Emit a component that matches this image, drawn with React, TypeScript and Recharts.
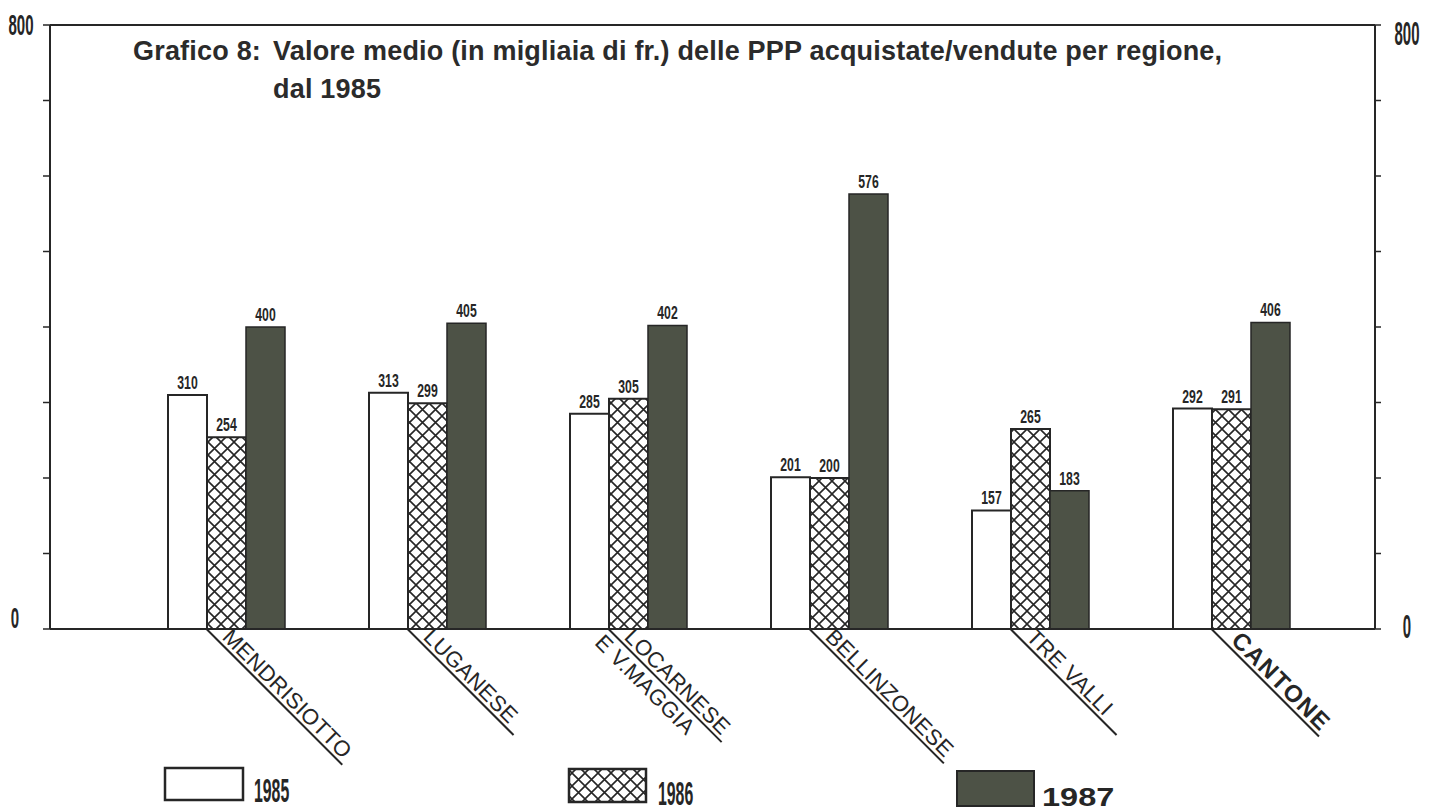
import { Bar, BarChart, LabelList, Legend, ReferenceLine, XAxis, YAxis } from "recharts";

const regions = [
  "MENDRISIOTTO",
  "LUGANESE",
  "LOCARNESE\nE V.MAGGIA",
  "BELLINZONESE",
  "TRE VALLI",
  "CANTONE",
];
const values1985 = [310, 313, 285, 201, 157, 292];
const values1986 = [254, 299, 305, 200, 265, 291];
const values1987 = [400, 405, 402, 576, 183, 406];
const years = ["1985", "1986", "1987"];
const yTicks = [0, 100, 200, 300, 400, 500, 600, 700, 800];

const data = regions.map((region, i) => ({
  region,
  v1985: values1985[i],
  v1986: values1986[i],
  v1987: values1987[i],
}));

const INK = "#262626";
const DARK = "#4d5246";
const FONT = "'Liberation Sans', Arial, Helvetica, sans-serif";

// length of the slanted underline for each region label
const underline: Record<string, number> = {
  MENDRISIOTTO: 192,
  LUGANESE: 150,
  "LOCARNESE\nE V.MAGGIA": 160,
  BELLINZONESE: 190,
  "TRE VALLI": 150,
  CANTONE: 152,
};

function RegionTick({ x, y, payload }: any) {
  const name: string = payload.value;
  const [first, second] = name.split("\n");
  const bold = name === "CANTONE";
  return (
    <g transform={`translate(${x - 20},${y}) rotate(45)`}>
      <line x1={0} y1={0} x2={underline[name] ?? 150} y2={0} stroke={INK} strokeWidth={2} />
      <text
        x={bold ? 22 : 17}
        y={-4}
        fontSize={bold ? 24 : 22}
        fontWeight={bold ? 700 : 400}
        letterSpacing={bold ? 1.5 : 0.3}
        fill={INK}
        fontFamily={FONT}
      >
        {first}
      </text>
      {second && (
        <text x={0} y={21} fontSize={22} letterSpacing={0.3} fill={INK} fontFamily={FONT}>
          {second}
        </text>
      )}
    </g>
  );
}

function LeftTick({ x, y, payload }: any) {
  const v = payload.value;
  if (v !== 0 && v !== 800) return <g />;
  return (
    <g transform={`translate(${v === 800 ? x - 20 : x - 26},${v === 800 ? y + 10 : y - 1}) scale(0.5,1)`}>
      <text textAnchor="middle" fontSize={30} fontWeight={700} fill={INK} fontFamily={FONT}>
        {v}
      </text>
    </g>
  );
}

function RightTick({ x, y, payload }: any) {
  const v = payload.value;
  if (v !== 0 && v !== 800) return <g />;
  return (
    <g transform={`translate(${x + 24},${v === 800 ? y + 20 : y + 9}) scale(0.5,1.1)`}>
      <text textAnchor="middle" fontSize={30} fontWeight={700} fill={INK} fontFamily={FONT}>
        {v}
      </text>
    </g>
  );
}

function ValueLabel({ x, y, width, value }: any) {
  return (
    <g transform={`translate(${Number(x) + Number(width) / 2},${Number(y) - 6}) scale(0.68,1)`}>
      <text textAnchor="middle" fontSize={18} fontWeight={700} fill={INK} fontFamily={FONT}>
        {value}
      </text>
    </g>
  );
}

function YearLegend() {
  return (
    <svg width={1438} height={52}>
      <defs>
        <pattern id="hatchLegend" patternUnits="userSpaceOnUse" width={13} height={13}>
          <rect width={13} height={13} fill="#fff" />
          <path d="M0,0 L13,13 M13,0 L0,13" stroke={INK} strokeWidth={1.6} />
        </pattern>
      </defs>
      <rect x={165} y={8} width={78} height={32} fill="#fff" stroke={INK} strokeWidth={2.5} />
      <g transform="translate(254,42) scale(0.48,1)">
        <text fontSize={33} fontWeight={700} fill={INK} fontFamily={FONT}>
          {years[0]}
        </text>
      </g>
      <rect x={569} y={9} width={77} height={33} fill="url(#hatchLegend)" stroke={INK} strokeWidth={2.5} />
      <g transform="translate(658,45) scale(0.48,1)">
        <text fontSize={33} fontWeight={700} fill={INK} fontFamily={FONT}>
          {years[1]}
        </text>
      </g>
      <rect x={957} y={11} width={77} height={35} fill={DARK} stroke={INK} strokeWidth={2} />
      <g transform="translate(1042,46) scale(1.25,1)">
        <text fontSize={26} fontWeight={700} fill={INK} fontFamily={FONT}>
          {years[2]}
        </text>
      </g>
    </svg>
  );
}

export default function App() {
  return (
    <div style={{ position: "absolute", left: 0, top: 0, width: 1438, height: 812, background: "#fff" }}>
      <div
        style={{
          position: "absolute",
          left: 133,
          top: 32,
          fontFamily: FONT,
          fontWeight: 700,
          fontSize: 27,
          letterSpacing: 0.2,
          lineHeight: "38px",
          color: "#2b2b2b",
          whiteSpace: "nowrap",
          zIndex: 2,
        }}
      >
        <span style={{ position: "absolute", left: 0, top: 0 }}>Grafico 8:</span>
        <div style={{ position: "absolute", left: 140, top: 0 }}>
          Valore medio (in migliaia di fr.) delle PPP acquistate/vendute per regione,
          <br />
          dal 1985
        </div>
      </div>
      <BarChart
        width={1438}
        height={812}
        data={data}
        margin={{ top: 25, right: 0, bottom: 0, left: 0 }}
        barGap={0}
        barCategoryGap={42}
      >
        <defs>
          <pattern id="hatch" patternUnits="userSpaceOnUse" width={13} height={13}>
            <rect width={13} height={13} fill="#fff" />
            <path d="M0,0 L13,13 M13,0 L0,13" stroke={INK} strokeWidth={1.6} />
          </pattern>
        </defs>
        <XAxis
          dataKey="region"
          height={183}
          padding={{ left: 76, right: 43 }}
          axisLine={{ stroke: INK, strokeWidth: 2 }}
          tickLine={false}
          tickSize={0}
          tickMargin={0}
          interval={0}
          tick={<RegionTick />}
        />
        <YAxis
          yAxisId="l"
          type="number"
          width={50}
          domain={[0, 800]}
          allowDataOverflow
          ticks={yTicks}
          axisLine={{ stroke: INK, strokeWidth: 2 }}
          tickLine={{ stroke: INK, strokeWidth: 1.5 }}
          tickSize={7}
          tick={<LeftTick />}
        />
        <YAxis
          yAxisId="r"
          type="number"
          orientation="right"
          width={63}
          domain={[0, 800]}
          allowDataOverflow
          ticks={yTicks}
          axisLine={{ stroke: INK, strokeWidth: 2 }}
          tickLine={{ stroke: INK, strokeWidth: 1.5 }}
          tickSize={6}
          tick={<RightTick />}
        />
        <ReferenceLine yAxisId="l" y={800} stroke={INK} strokeWidth={2} />
        <Legend
          verticalAlign="middle"
          align="center"
          content={<YearLegend />}
          wrapperStyle={{ position: "absolute", left: 0, top: 760, width: 1438, height: 52 }}
        />
        <Bar yAxisId="l" dataKey="v1985" name={years[0]} barSize={39} fill="#fff" stroke={INK} strokeWidth={2} isAnimationActive={false}>
          <LabelList dataKey="v1985" content={<ValueLabel />} />
        </Bar>
        <Bar yAxisId="l" dataKey="v1986" name={years[1]} barSize={39} fill="url(#hatch)" stroke={INK} strokeWidth={2} isAnimationActive={false}>
          <LabelList dataKey="v1986" content={<ValueLabel />} />
        </Bar>
        <Bar yAxisId="l" dataKey="v1987" name={years[2]} barSize={39} fill={DARK} stroke={INK} strokeWidth={1.5} isAnimationActive={false}>
          <LabelList dataKey="v1987" content={<ValueLabel />} />
        </Bar>
      </BarChart>
    </div>
  );
}
